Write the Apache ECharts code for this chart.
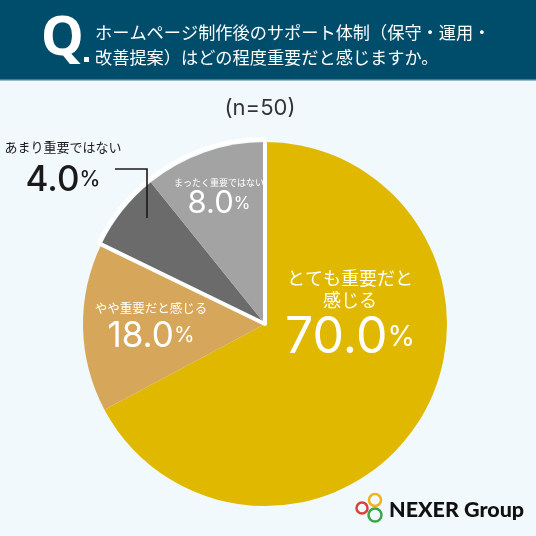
<!DOCTYPE html>
<html>
<head>
<meta charset="utf-8">
<script src="https://cdn.jsdelivr.net/npm/echarts@6/dist/echarts.min.js"></script>
<style>
  html, body { margin: 0; padding: 0; background: #f2f9fc; }
  #main { width: 536px; height: 536px; }
</style>
</head>
<body>
<div id="main"></div>
<script>
var categories = ["とても重要だと感じる", "やや重要だと感じる", "あまり重要ではない", "まったく重要ではない"];
// printed percentages
var percents = [70.0, 18.0, 4.0, 8.0];
// slice shares as they are drawn in the picture (angles)
var sliceShares = [67.2, 15.0, 7.0, 10.8];
var sliceColors = ["#e0b800", "#d6a75a", "#6b6b6b", "#a3a3a3"];
var questionLines = ["ホームページ制作後のサポート体制（保守・運用・", "改善提案）はどの程度重要だと感じますか。"];
var sampleText = "(n=50)";

var numFont = "Inter";
var jpFont = "Noto Sans CJK JP";

// label sizes per slice: name size, name line height, number size, % size, number line height
var labelStyles = [
  { n: 18, nh: 22, v: 50, p: 28, vh: 54, color: "#fff" },
  { n: 12.5, nh: 16, v: 35, p: 21, vh: 40, color: "#fff" },
  { n: 13, nh: 18, v: 35, p: 21, vh: 48, color: "#1a1a1a" },
  { n: 9, nh: 12, v: 31, p: 17, vh: 30, color: "#fff" },
];
// label block centres (text only)
var labelPos = [
  [350, 316],
  [151, 328],
  [63, 171],
  [219, 198],
];

var chart = echarts.init(document.getElementById("main"));

var pieData = categories.map(function (name, i) {
  var s = labelStyles[i];
  return {
    name: name,
    value: sliceShares[i],
    percent: percents[i],
    itemStyle: { color: sliceColors[i] },
    label: {
      rich: {
        n: { fontFamily: jpFont, fontSize: s.n, lineHeight: s.nh, color: s.color, align: "center" },
        v: { fontFamily: numFont, fontSize: s.v, lineHeight: s.vh, color: s.color, fontWeight: i === 2 ? 500 : 400 },
        p: { fontFamily: numFont, fontSize: s.p, lineHeight: s.vh, color: s.color, fontWeight: i === 2 ? 500 : 400 },
      },
    },
  };
});

// white separators only between the gold/tan block and the grey block
var sepData = [
  { value: sliceShares[0] + sliceShares[1], itemStyle: { color: "transparent", borderWidth: 0 } },
  { value: sliceShares[2] + sliceShares[3], itemStyle: { color: "transparent", borderColor: "#ffffff", borderWidth: 4 } },
];

var option = {
  backgroundColor: "#f2f9fc",
  animation: false,
  graphic: [
    { type: "rect", shape: { x: 0, y: 0, width: 536, height: 80 }, style: { fill: "#004d6b" } },
    { type: "rect", shape: { x: 0, y: 79, width: 536, height: 1.5 }, style: { fill: "#3f7d98" } },
    {
      type: "text",
      style: { text: "Q", x: 41, y: 40, font: 'bold 54px "Noto Sans"', fill: "#fff", verticalAlign: "middle" },
    },
    { type: "rect", shape: { x: 84, y: 57, width: 5, height: 5 }, style: { fill: "#fff" } },
    {
      type: "text",
      style: {
        text: questionLines.join("\n"),
        x: 95,
        y: 20,
        font: '17.2px "Noto Sans CJK JP"',
        lineHeight: 25,
        fill: "#fff",
        verticalAlign: "top",
      },
    },
    {
      type: "text",
      style: {
        text: sampleText,
        x: 260,
        y: 108,
        font: '22px "Inter"',
        fill: "#333",
        align: "center",
        verticalAlign: "middle",
      },
    },
    // leader line for the 4.0% label
    {
      type: "polyline",
      z: 100,
      shape: { points: [[115, 169], [147, 169], [147, 218]] },
      style: { stroke: "#1a1a1a", lineWidth: 1.6, fill: null },
    },
    // logo
    { type: "circle", shape: { cx: 362, cy: 508, r: 5.5 }, style: { fill: "none", stroke: "#d9403a", lineWidth: 2.5 } },
    { type: "circle", shape: { cx: 375, cy: 500, r: 6 }, style: { fill: "none", stroke: "#ecb420", lineWidth: 2.5 } },
    { type: "circle", shape: { cx: 375, cy: 515, r: 6.5 }, style: { fill: "none", stroke: "#3aa64a", lineWidth: 2.5 } },
    {
      type: "text",
      style: {
        text: "NEXER Group",
        x: 389,
        y: 510,
        font: '900 21.5px "Lato"',
        fill: "#111",
        verticalAlign: "middle",
      },
    },
  ],
  series: [
    {
      type: "pie",
      center: [265, 324],
      radius: 182,
      startAngle: 90,
      clockwise: true,
      silent: true,
      data: pieData,
      labelLine: { show: false },
      label: {
        show: true,
        position: "inside",
        overflow: "none",
        formatter: function (params) {
          var name = params.dataIndex === 0 ? "とても重要だと\n感じる" : params.name;
          var lines = name.split("\n").map(function (t) {
            return "{n|" + t + "}";
          });
          return lines.join("\n") + "\n{v|" + params.data.percent.toFixed(1) + "}{p|%}";
        },
      },
      labelLayout: function (params) {
        var pos = labelPos[params.dataIndex];
        return { x: pos[0], y: pos[1], align: "center", verticalAlign: "middle" };
      },
    },
    {
      type: "pie",
      center: [265, 324],
      radius: 185,
      startAngle: 90,
      clockwise: true,
      silent: true,
      label: { show: false },
      labelLine: { show: false },
      data: sepData,
    },
  ],
};
chart.setOption(option);
</script>
</body>
</html>
